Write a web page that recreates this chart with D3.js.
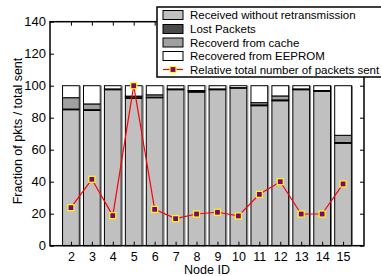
<!DOCTYPE html>
<html><head><meta charset="utf-8">
<script src="https://cdn.jsdelivr.net/npm/d3@7"></script>
<style>body{margin:0;background:#fff}svg{display:block}text{font-family:"Liberation Sans",Arial,sans-serif}</style>
</head><body><svg id="c" width="381" height="276"></svg>
<script>
const nodes = [2,3,4,5,6,7,8,9,10,11,12,13,14,15];
const received = [85,84.5,97.5,92,92.5,97.5,96,97.5,98.5,87.5,90.6,97.5,96.5,64];
const lost     = [0.4,0.5,0.3,1,0.3,0.5,0.7,0.5,0.3,0.5,0.5,0.5,0.5,0.5];
const cache    = [7.1,3.6,0.2,0.5,1.5,0,0.3,0,0,1.4,2.5,0,0,4.5];
const eeprom   = nodes.map((d,i)=>100-received[i]-lost[i]-cache[i]);
const relTotal = [23.8,41.5,18.8,100,22.7,16.9,19.8,20.9,18.6,32.1,40,19.8,19.8,38.6];
const yTicks = [0,20,40,60,80,100,120,140];
const seriesNames = ["Received without retransmission","Lost Packets","Recoverd from cache","Recovered from EEPROM"];
const seriesColors = ["#c0c0c0","#4a4a4a","#a0a0a0","#ffffff"];
const lineName = "Relative total number of packets sent";

const svg = d3.select("#c");
const L=50, R=364, T=21.7, B=245.7;
const x = d3.scaleLinear().domain([1,16]).range([L,R]);
const y = d3.scaleLinear().domain([0,140]).range([B,T]);
const bw = x(1.8)-x(1);

const series = [received,lost,cache,eeprom];
nodes.forEach((n,i)=>{
  let acc=0;
  series.forEach((s,k)=>{
    const v=s[i]; if(v<=0) return;
    svg.append("rect").attr("x",x(n)-bw/2).attr("width",bw)
      .attr("y",y(acc+v)).attr("height",y(acc)-y(acc+v))
      .attr("fill",seriesColors[k]).attr("stroke","#000").attr("stroke-width",1);
    acc+=v;
  });
  svg.append("line").attr("x1",x(n)+bw/2+1).attr("x2",x(n)+bw/2+1).attr("y1",y(100)).attr("y2",y(0))
    .attr("stroke","#777").attr("stroke-width",1);
});

const line = d3.line().x((d,i)=>x(nodes[i])).y(d=>y(d));
svg.append("path").datum(relTotal).attr("d",line).attr("fill","none").attr("stroke","#ff0000").attr("stroke-width",1.2);
svg.selectAll(".mk").data(relTotal).enter().append("rect")
  .attr("x",(d,i)=>x(nodes[i])-3).attr("y",d=>y(d)-3).attr("width",6).attr("height",6)
  .attr("fill","#800080").attr("stroke","#ffff00").attr("stroke-width",1.2);

svg.append("rect").attr("x",L).attr("y",T).attr("width",R-L).attr("height",B-T)
  .attr("fill","none").attr("stroke","#000").attr("stroke-width",1.5);
const ya = d3.axisLeft(y).tickValues(yTicks).tickSize(-4).tickPadding(4);
const gy = svg.append("g").attr("transform",`translate(${L},0)`).call(ya);
gy.select(".domain").remove();
gy.selectAll("text").attr("font-size",13).attr("fill","#000").attr("font-family","Liberation Sans, Arial");
const gyr = svg.append("g").attr("transform",`translate(${R},0)`).call(d3.axisRight(y).tickValues(yTicks).tickSize(-4).tickFormat(""));
gyr.select(".domain").remove();
const xa = d3.axisBottom(x).tickValues(nodes).tickSize(-4).tickPadding(6);
const gx = svg.append("g").attr("transform",`translate(0,${B})`).call(xa);
gx.select(".domain").remove();
gx.selectAll("text").attr("font-size",12.5).attr("fill","#000").attr("font-family","Liberation Sans, Arial");
const gxt = svg.append("g").attr("transform",`translate(0,${T})`).call(d3.axisTop(x).tickValues(nodes).tickSize(-4).tickFormat(""));
gxt.select(".domain").remove();

svg.append("text").attr("x",(L+R)/2).attr("y",274).attr("text-anchor","middle").attr("font-size",12.5).text("Node ID");
svg.append("text").attr("transform","translate(22,131) rotate(-90)").attr("text-anchor","middle").attr("font-size",12.5).text("Fraction of pkts / total sent");

const lg = svg.append("g");
lg.append("rect").attr("x",157).attr("y",7).attr("width",240).attr("height",70).attr("fill","#fff").attr("stroke","#000").attr("stroke-width",1.5);
const ly = [15,29,42.5,56,69.5];
seriesNames.forEach((nm,k)=>{
  lg.append("rect").attr("x",163).attr("y",ly[k]-4.5).attr("width",20).attr("height",9).attr("fill",seriesColors[k]).attr("stroke","#000");
  lg.append("text").attr("x",190).attr("y",ly[k]+4).attr("font-size",11.5).text(nm);
});
lg.append("line").attr("x1",163).attr("x2",183).attr("y1",ly[4]).attr("y2",ly[4]).attr("stroke","#ff0000").attr("stroke-width",1.2);
lg.append("rect").attr("x",170).attr("y",ly[4]-3).attr("width",6).attr("height",6).attr("fill","#800080").attr("stroke","#ffff00").attr("stroke-width",1.2);
lg.append("text").attr("x",190).attr("y",ly[4]+4).attr("font-size",11.5).text(lineName);
</script></body></html>
